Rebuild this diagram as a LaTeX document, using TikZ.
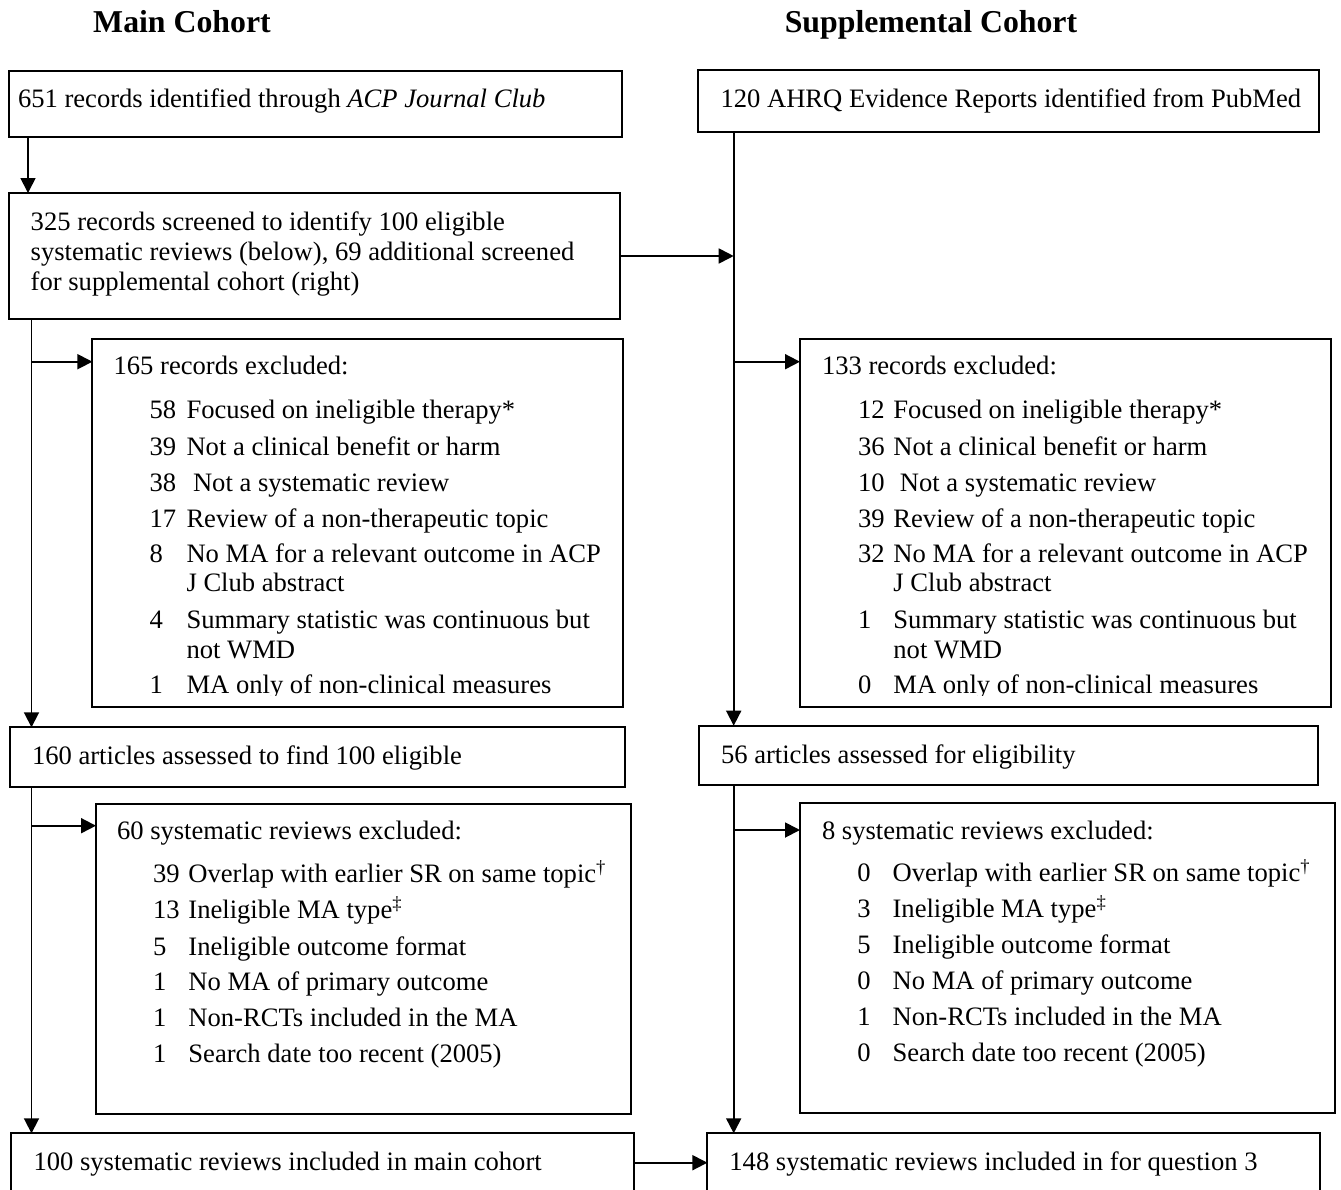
\documentclass[tikz,border=0pt]{standalone}
\usepackage{fontspec}
\setmainfont{Liberation Serif}
\usetikzlibrary{arrows.meta}
\newcommand\exrow[6]{%
  \node[txt] (#1n) at (#2,#4) {#5};
  \node[txt] (#1t) at (#3,#4) {#6};}
\begin{document}
\begin{tikzpicture}[x=1pt,y=-1pt,
  box/.style={draw, line width=2pt, anchor=north west, inner sep=0pt, outer sep=0pt},
  txt/.style={anchor=base west, inner sep=0pt, outer sep=0pt, font=\fontsize{26.6}{30}\selectfont},
  ttl/.style={anchor=base, inner sep=0pt, outer sep=0pt, font=\fontsize{31.8}{36}\selectfont\bfseries},
  conn/.style={line width=1.8pt},
  arr/.style={conn, -{Triangle[length=15pt,width=15pt]}}]
\useasboundingbox (0,0) rectangle (1341,1189);
\fill[white] (0,0) rectangle (1341,1189);

% titles
\node[ttl] (t1) at (182,32.5) {Main Cohort};
\node[ttl] (t2) at (931,32.5) {Supplemental Cohort};

% boxes
\node[box, minimum width=612.6pt, minimum height=65.7pt] (A) at (9.4,71) {};
\node[box, minimum width=621.2pt, minimum height=61.7pt] (C) at (697.8,70) {};
\node[box, minimum width=611pt, minimum height=126pt] (B) at (9,193) {};
\node[box, minimum width=530.6pt, minimum height=367.7pt] (D) at (92.4,339) {};
\node[box, minimum width=530.5pt, minimum height=367.7pt] (D2) at (800,339) {};
\node[box, minimum width=615.2pt, minimum height=59.4pt] (E) at (9.8,727.3) {};
\node[box, minimum width=619pt, minimum height=59.3pt] (E2) at (699,725.7) {};
\node[box, minimum width=534.8pt, minimum height=310pt] (F) at (96,804.3) {};
\node[box, minimum width=534.6pt, minimum height=310.6pt] (F2) at (800,802.7) {};
\node[box, minimum width=623pt, minimum height=67pt] (G) at (11,1133.3) {};
\node[box, minimum width=612.3pt, minimum height=67pt] (H) at (707.4,1133.3) {};

% connector guides
\coordinate (lcA) at (28,0);
\coordinate (lc) at (31.5,0);
\coordinate (rc) at (733.7,0);
\coordinate (yBr) at (0,256);
\coordinate (yD) at (0,361.7);
\coordinate (yF) at (0,825.7);
\coordinate (yFr) at (0,830);
\coordinate (yG) at (0,1162.7);

\draw[arr] (A.south -| lcA) -- (B.north -| lcA);
\draw[arr] (B.east |- yBr) -- (rc |- yBr);
\draw[arr] (B.south -| lc) -- (E.north -| lc);
\draw[arr] (lc |- yD) -- (D.west |- yD);
\draw[arr] (E.south -| lc) -- (G.north -| lc);
\draw[arr] (lc |- yF) -- (F.west |- yF);
\draw[arr] (G.east |- yG) -- (H.west |- yG);
\draw[arr] (C.south -| rc) -- (E2.north -| rc);
\draw[arr] (rc |- yD) -- (D2.west |- yD);
\draw[arr] (E2.south -| rc) -- (H.north -| rc);
\draw[arr] (rc |- yFr) -- (F2.west |- yFr);

% texts
\node[txt] (at) at (18,107) {651 records identified through \textit{ACP Journal Club}};
\node[txt] (ct) at (720.5,107) {120 AHRQ Evidence Reports identified from PubMed};
\node[txt] (bt1) at (30.7,230.7) {325 records screened to identify 100 eligible};
\node[txt] (bt2) at (30.7,260.7) {systematic reviews (below), 69 additional screened};
\node[txt] (bt3) at (30.7,290.7) {for supplemental cohort (right)};

\node[txt] (dh) at (113.6,374) {165 records excluded:};
\exrow{d1}{149.6}{186.5}{418.5}{58}{Focused on ineligible therapy*}
\exrow{d2}{149.6}{186.5}{455}{39}{Not a clinical benefit or harm}
\exrow{d3}{149.6}{193}{491.5}{38}{Not a systematic review}
\exrow{d4}{149.6}{186.5}{527}{17}{Review of a non-therapeutic topic}
\exrow{d5}{149.6}{186.5}{562.5}{8}{No MA for a relevant outcome in ACP}
\node[txt] (d5b) at (186.5,591) {J Club abstract};
\exrow{d6}{149.6}{186.5}{628.5}{4}{Summary statistic was continuous but}
\node[txt] (d6b) at (186.5,658) {not WMD};

\node[txt] (ddh) at (822,374) {133 records excluded:};
\exrow{dd1}{858}{893.4}{418.5}{12}{Focused on ineligible therapy*}
\exrow{dd2}{858}{893.4}{455}{36}{Not a clinical benefit or harm}
\exrow{dd3}{858}{899.9}{491.5}{10}{Not a systematic review}
\exrow{dd4}{858}{893.4}{527}{39}{Review of a non-therapeutic topic}
\exrow{dd5}{858}{893.4}{562.5}{32}{No MA for a relevant outcome in ACP}
\node[txt] (dd5b) at (893.4,591) {J Club abstract};
\exrow{dd6}{858}{893.4}{628.5}{1}{Summary statistic was continuous but}
\node[txt] (dd6b) at (893.4,658) {not WMD};

\begin{scope}
\clip (0,0) rectangle (1341,695.5);
\exrow{d7}{149.6}{186.5}{693.5}{1}{MA only of non-clinical measures}
\exrow{dd7}{858}{893.4}{693.5}{0}{MA only of non-clinical measures}
\end{scope}

\node[txt] (et) at (32,764) {160 articles assessed to find 100 eligible};
\node[txt] (eet) at (721,763) {56 articles assessed for eligibility};

\node[txt] (fh) at (117,839.3) {60 systematic reviews excluded:};
\exrow{f1}{153}{188.4}{882.7}{39}{Overlap with earlier SR on same topic\textsuperscript{†}}
\exrow{f2}{153}{188.4}{918.3}{13}{Ineligible MA type\textsuperscript{‡}}
\exrow{f3}{153}{188.4}{955}{5}{Ineligible outcome format}
\exrow{f4}{153}{188.4}{990.7}{1}{No MA of primary outcome}
\exrow{f5}{153}{188.4}{1026.7}{1}{Non-RCTs included in the MA}
\exrow{f6}{153}{188.4}{1062.7}{1}{Search date too recent (2005)}

\node[txt] (ffh) at (822,839) {8 systematic reviews excluded:};
\exrow{ff1}{857.3}{892.6}{881.7}{0}{Overlap with earlier SR on same topic\textsuperscript{†}}
\exrow{ff2}{857.3}{892.6}{917.3}{3}{Ineligible MA type\textsuperscript{‡}}
\exrow{ff3}{857.3}{892.6}{953.3}{5}{Ineligible outcome format}
\exrow{ff4}{857.3}{892.6}{989}{0}{No MA of primary outcome}
\exrow{ff5}{857.3}{892.6}{1025}{1}{Non-RCTs included in the MA}
\exrow{ff6}{857.3}{892.6}{1061.7}{0}{Search date too recent (2005)}

\node[txt] (gt) at (33.5,1170) {100 systematic reviews included in main cohort};
\node[txt] (ht) at (729.4,1170) {148 systematic reviews included in for question 3};
\end{tikzpicture}
\end{document}
